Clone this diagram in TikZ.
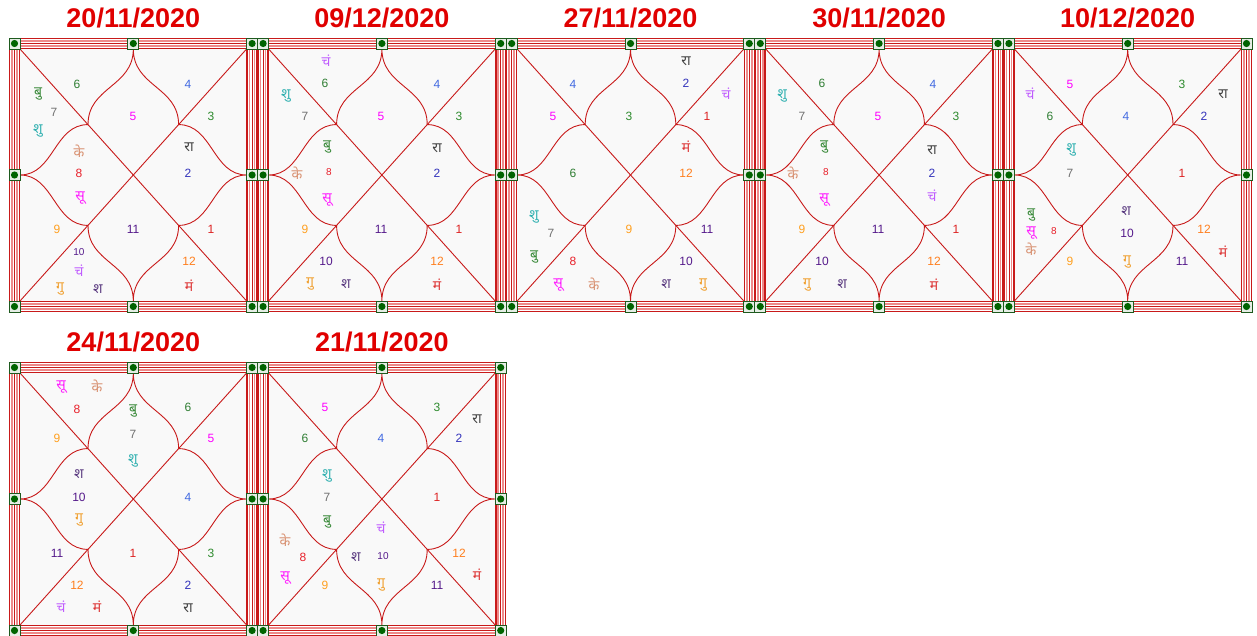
\documentclass[tikz,border=0pt]{standalone}
\usepackage{fontspec}
\usepackage{tikz}
\usetikzlibrary{calc}
\usepackage{tkz-euclide}
\usepackage{xcolor}
\newfontfamily\numfont{Liberation Sans}
\newfontfamily\devfont[Script=Devanagari]{Noto Sans}

\definecolor{titlered}{HTML}{E00000}
\definecolor{lal}{HTML}{C81A1A}
\definecolor{halkalal}{HTML}{EE8A8A}
\definecolor{chartbg}{HTML}{F9F9F9}
\definecolor{hara}{HTML}{1E5A1E}
\definecolor{bindu}{HTML}{006400}
\definecolor{konabg}{HTML}{E6EEE6}
% sign colours
\definecolor{r1}{HTML}{DD2222}
\definecolor{r2}{HTML}{3333BB}
\definecolor{r3}{HTML}{2E8B2E}
\definecolor{r4}{HTML}{4169E1}
\definecolor{r5}{HTML}{FF00FF}
\definecolor{r6}{HTML}{2E7D32}
\definecolor{r7}{HTML}{707070}
\definecolor{r8}{HTML}{E8202A}
\definecolor{r9}{HTML}{FFA020}
\definecolor{r10}{HTML}{551A8B}
\definecolor{r11}{HTML}{551A8B}
\definecolor{r12}{HTML}{FF7F1E}
% planet colours
\definecolor{cSu}{HTML}{FF22FF}
\definecolor{cCha}{HTML}{C05CFF}
\definecolor{cMa}{HTML}{DD3333}
\definecolor{cBu}{HTML}{3A8A3A}
\definecolor{cGu}{HTML}{F0A030}
\definecolor{cShu}{HTML}{30B0B0}
\definecolor{cSha}{HTML}{5A3A80}
\definecolor{cRa}{HTML}{404040}
\definecolor{cKe}{HTML}{D89070}

\tikzset{
  rekha/.style={draw=lal, line width=0.9pt},
  shirshak/.style={font=\numfont\bfseries\fontsize{27}{27}\selectfont, text=titlered, inner sep=0pt},
  rashi/.style={font=\numfont\fontsize{12}{12}\selectfont, text=r#1, inner sep=0pt},
  chhota/.style={font=\numfont\fontsize{10}{10}\selectfont},
  graha/.style={font=\devfont\fontsize{14}{14}\selectfont, text=#1, inner sep=0pt},
  kona/.style={draw=hara, fill=konabg, line width=0.8pt}
}

% one chart: x, y of the frame, name of title node, title
\newcommand{\kundali}[4]{%
\begin{scope}[shift={(#1,#2)}]
  \fill[chartbg] (11,11) rectangle (237.6,263);
  \draw[lal, line width=1.2pt] (0.6,0.6) rectangle (248,273.4);
  \draw[halkalal, line width=1.5pt] (3,3) rectangle (245.6,271);
  \draw[lal, line width=0.8pt] (5.5,5.5) rectangle (243.1,268.5);
  \draw[halkalal, line width=1.5pt] (8,8) rectangle (240.6,266);
  \draw[lal, line width=1.6pt] (10.4,10.4) rectangle (238.2,263.6);
  \tkzDefPoints{11/11/K1, 237.6/11/K2, 237.6/263/K3, 11/263/K4}
  \tkzDrawSegments[rekha](K1,K3 K2,K4)
  % lotus
  \draw[rekha] (124.3,11) .. controls (124.3,48.8) and (79,48.8) .. (79,86.6)
    .. controls (45,86.6) and (45,137) .. (11,137)
    .. controls (45,137) and (45,187.4) .. (79,187.4)
    .. controls (79,225.2) and (124.3,225.2) .. (124.3,263)
    .. controls (124.3,225.2) and (169.6,225.2) .. (169.6,187.4)
    .. controls (203.6,187.4) and (203.6,137) .. (237.6,137)
    .. controls (203.6,137) and (203.6,86.6) .. (169.6,86.6)
    .. controls (169.6,48.8) and (124.3,48.8) .. (124.3,11);
  \foreach \gx/\gy in {5.5/5.5, 124.3/5.5, 243.1/5.5, 5.5/137, 243.1/137,
                       5.5/268.5, 124.3/268.5, 243.1/268.5}{
    \draw[kona] (\gx-5.5,\gy-5.5) rectangle ++(11,11);
    \fill[bindu] (\gx,\gy) circle (3.6);
  }
  \node[shirshak] (#3) at (124.3,-20) {#4};
\end{scope}}

\begin{document}
\begin{tikzpicture}[x=1pt, y=-1pt]
  \useasboundingbox (0,0) rectangle (1257,636);
  \kundali{9}{38}{tA}{20/11/2020}
  \kundali{257.6}{38}{tB}{09/12/2020}
  \kundali{506.2}{38}{tC}{27/11/2020}
  \kundali{754.8}{38}{tD}{30/11/2020}
  \kundali{1003.4}{38}{tE}{10/12/2020}
  \kundali{9}{362}{tF}{24/11/2020}
  \kundali{257.6}{362}{tG}{21/11/2020}

  % 20/11/2020
  \node[rashi=5] (A5) at (133,116) {5};
  \node[rashi=4] (A4) at (188,84) {4};
  \node[rashi=3] (A3) at (211,116) {3};
  \node[graha=cRa] (Ara) at (189,147) {रा};
  \node[rashi=2] (A2) at (188,173) {2};
  \node[rashi=1] (A1) at (211,229) {1};
  \node[rashi=12] (A12) at (189,261) {12};
  \node[graha=cMa] (Ama) at (189,286) {मं};
  \node[rashi=11] (A11) at (133,229) {11};
  \node[rashi=10, chhota] (A10) at (79,252) {10};
  \node[graha=cCha] (Acha) at (79,271) {चं};
  \node[graha=cGu] (Agu) at (60,289) {गु};
  \node[graha=cSha] (Asha) at (98,289) {श};
  \node[rashi=9] (A9) at (57,229) {9};
  \node[graha=cKe] (Ake) at (79,151) {के};
  \node[rashi=8] (A8) at (79,173) {8};
  \node[graha=cSu] (Asu) at (80,198) {सू};
  \node[rashi=6] (A6) at (77,84) {6};
  \node[graha=cBu] (Abu) at (38,94) {बु};
  \node[rashi=7] (A7) at (54,112) {7};
  \node[graha=cShu] (Ashu) at (38,131) {शु};

  % 09/12/2020
  \node[graha=cCha] (Bcha) at (326,61) {चं};
  \node[rashi=6] (B6) at (325,83) {6};
  \node[graha=cShu] (Bshu) at (286,96) {शु};
  \node[rashi=7] (B7) at (305,116) {7};
  \node[rashi=5] (B5) at (381,116) {5};
  \node[rashi=4] (B4) at (437,84) {4};
  \node[rashi=3] (B3) at (459,116) {3};
  \node[graha=cBu] (Bbu) at (327,147) {बु};
  \node[graha=cKe] (Bke) at (297,173) {के};
  \node[rashi=8, chhota] (B8) at (329,172) {8};
  \node[graha=cSu] (Bsu) at (327,200) {सू};
  \node[graha=cRa] (Bra) at (437,148) {रा};
  \node[rashi=2] (B2) at (437,173) {2};
  \node[rashi=9] (B9) at (305,229) {9};
  \node[rashi=11] (B11) at (381,229) {11};
  \node[rashi=1] (B1) at (459,229) {1};
  \node[rashi=10] (B10) at (326,261) {10};
  \node[graha=cGu] (Bgu) at (310,284) {गु};
  \node[graha=cSha] (Bsha) at (346,284) {श};
  \node[rashi=12] (B12) at (437,261) {12};
  \node[graha=cMa] (Bma) at (437,285) {मं};

  % 27/11/2020
  \node[graha=cRa] (Cra) at (686,61) {रा};
  \node[rashi=2] (C2) at (686,83) {2};
  \node[graha=cCha] (Ccha) at (726,94) {चं};
  \node[rashi=1] (C1) at (707,116) {1};
  \node[rashi=4] (C4) at (573,84) {4};
  \node[rashi=5] (C5) at (553,116) {5};
  \node[rashi=3] (C3) at (629,116) {3};
  \node[rashi=6] (C6) at (573,173) {6};
  \node[graha=cMa] (Cma) at (686,147) {मं};
  \node[rashi=12] (C12) at (686,173) {12};
  \node[graha=cShu] (Cshu) at (534,217) {शु};
  \node[rashi=7] (C7) at (551,233) {7};
  \node[graha=cBu] (Cbu) at (534,257) {बु};
  \node[rashi=8] (C8) at (573,261) {8};
  \node[graha=cSu] (Csu) at (558,285) {सू};
  \node[graha=cKe] (Cke) at (594,284) {के};
  \node[rashi=9] (C9) at (629,229) {9};
  \node[rashi=11] (C11) at (707,229) {11};
  \node[rashi=10] (C10) at (686,261) {10};
  \node[graha=cSha] (Csha) at (666,284) {श};
  \node[graha=cGu] (Cgu) at (703,285) {गु};

  % 30/11/2020
  \node[rashi=6] (D6) at (822,83) {6};
  \node[graha=cShu] (Dshu) at (782,96) {शु};
  \node[rashi=7] (D7) at (802,116) {7};
  \node[rashi=5] (D5) at (878,116) {5};
  \node[rashi=4] (D4) at (933,84) {4};
  \node[rashi=3] (D3) at (956,116) {3};
  \node[graha=cBu] (Dbu) at (824,147) {बु};
  \node[graha=cKe] (Dke) at (793,173) {के};
  \node[rashi=8, chhota] (D8) at (826,172) {8};
  \node[graha=cSu] (Dsu) at (824,200) {सू};
  \node[graha=cRa] (Dra) at (932,150) {रा};
  \node[rashi=2] (D2) at (932,173) {2};
  \node[graha=cCha] (Dcha) at (932,196) {चं};
  \node[rashi=9] (D9) at (802,229) {9};
  \node[rashi=11] (D11) at (878,229) {11};
  \node[rashi=1] (D1) at (956,229) {1};
  \node[rashi=10] (D10) at (822,261) {10};
  \node[graha=cGu] (Dgu) at (807,285) {गु};
  \node[graha=cSha] (Dsha) at (842,284) {श};
  \node[rashi=12] (D12) at (934,261) {12};
  \node[graha=cMa] (Dma) at (934,285) {मं};

  % 10/12/2020
  \node[rashi=5] (E5) at (1070,84) {5};
  \node[graha=cCha] (Echa) at (1030,94) {चं};
  \node[rashi=6] (E6) at (1050,116) {6};
  \node[rashi=4] (E4) at (1126,116) {4};
  \node[rashi=3] (E3) at (1182,84) {3};
  \node[graha=cRa] (Era) at (1223,94) {रा};
  \node[rashi=2] (E2) at (1204,116) {2};
  \node[graha=cShu] (Eshu) at (1071,150) {शु};
  \node[rashi=7] (E7) at (1070,173) {7};
  \node[rashi=1] (E1) at (1182,173) {1};
  \node[graha=cBu] (Ebu) at (1031,215) {बु};
  \node[rashi=8, chhota] (E8) at (1054,231) {8};
  \node[graha=cSu] (Esu) at (1031,233) {सू};
  \node[graha=cKe] (Eke) at (1031,249) {के};
  \node[rashi=9] (E9) at (1070,261) {9};
  \node[graha=cSha] (Esha) at (1126,211) {श};
  \node[rashi=10] (E10) at (1127,233) {10};
  \node[graha=cGu] (Egu) at (1127,262) {गु};
  \node[rashi=12] (E12) at (1204,229) {12};
  \node[graha=cMa] (Ema) at (1223,252) {मं};
  \node[rashi=11] (E11) at (1182,261) {11};

  % 24/11/2020
  \node[graha=cSu] (Fsu) at (61,387) {सू};
  \node[graha=cKe] (Fke) at (97,386) {के};
  \node[rashi=8] (F8) at (77,409) {8};
  \node[rashi=9] (F9) at (57,438) {9};
  \node[graha=cBu] (Fbu) at (133,411) {बु};
  \node[rashi=7] (F7) at (133,434) {7};
  \node[graha=cShu] (Fshu) at (133,461) {शु};
  \node[rashi=6] (F6) at (188,407) {6};
  \node[rashi=5] (F5) at (211,438) {5};
  \node[graha=cSha] (Fsha) at (79,474) {श};
  \node[rashi=10] (F10) at (79,497) {10};
  \node[graha=cGu] (Fgu) at (79,520) {गु};
  \node[rashi=4] (F4) at (188,497) {4};
  \node[rashi=11] (F11) at (57,553) {11};
  \node[rashi=1] (F1) at (133,553) {1};
  \node[rashi=3] (F3) at (211,553) {3};
  \node[rashi=12] (F12) at (77,585) {12};
  \node[graha=cCha] (Fcha) at (61,607) {चं};
  \node[graha=cMa] (Fma) at (97,607) {मं};
  \node[rashi=2] (F2) at (188,585) {2};
  \node[graha=cRa] (Fra) at (188,608) {रा};

  % 21/11/2020
  \node[rashi=5] (G5) at (325,407) {5};
  \node[rashi=6] (G6) at (305,438) {6};
  \node[rashi=4] (G4) at (381,438) {4};
  \node[rashi=3] (G3) at (437,407) {3};
  \node[graha=cRa] (Gra) at (477,419) {रा};
  \node[rashi=2] (G2) at (459,438) {2};
  \node[graha=cShu] (Gshu) at (327,476) {शु};
  \node[rashi=7] (G7) at (327,497) {7};
  \node[graha=cBu] (Gbu) at (327,522) {बु};
  \node[rashi=1] (G1) at (437,497) {1};
  \node[graha=cKe] (Gke) at (285,540) {के};
  \node[rashi=8] (G8) at (303,557) {8};
  \node[graha=cSu] (Gsu) at (285,578) {सू};
  \node[rashi=9] (G9) at (325,585) {9};
  \node[graha=cCha] (Gcha) at (381,528) {चं};
  \node[graha=cSha] (Gsha) at (356,557) {श};
  \node[rashi=10, chhota] (G10) at (383,556) {10};
  \node[graha=cGu] (Ggu) at (381,585) {गु};
  \node[rashi=12] (G12) at (459,553) {12};
  \node[graha=cMa] (Gma) at (477,575) {मं};
  \node[rashi=11] (G11) at (437,585) {11};
\end{tikzpicture}
\end{document}
